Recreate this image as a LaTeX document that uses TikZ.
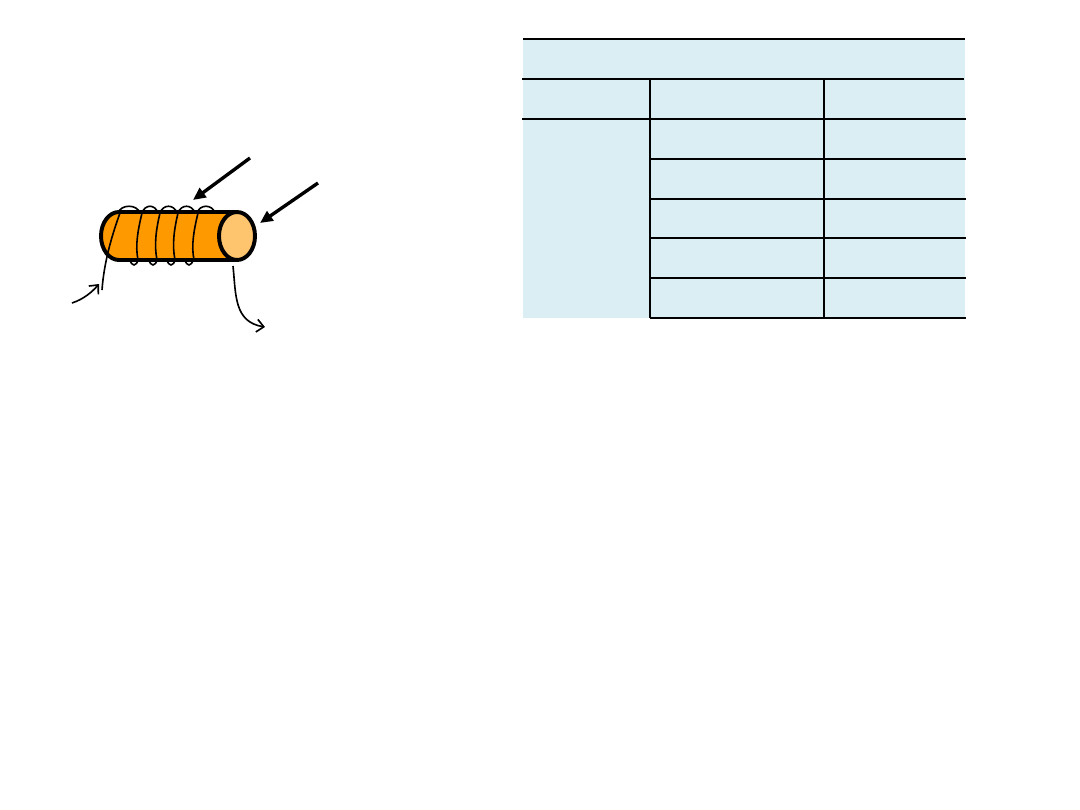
\documentclass[tikz,border=0pt]{standalone}
\usetikzlibrary{arrows.meta}
\definecolor{coilorange}{RGB}{255,153,0}
\definecolor{coilend}{RGB}{255,196,110}
\definecolor{cellblue}{RGB}{219,238,243}
\tikzset{
    wire/.style={line width=1.15pt},
    lead/.style={wire,-{Straight Barb[length=5pt,width=9pt]}},
    rim/.style={line width=2.8pt},
    pointer/.style={line width=2.4pt,-{Triangle[length=9pt,width=8pt]}},
    gridline/.style={line width=0.9pt},
}
\begin{document}
\begin{tikzpicture}[x=0.025cm,y=-0.025cm]
        \useasboundingbox (0,0) rectangle (1080,810);
        % table
        \fill[cellblue] (523,39) rectangle (965,318);
        \draw[gridline] (523,39) -- (965,39);
        \draw[gridline] (522,79) -- (964,79);
        \draw[gridline] (522,119) -- (966,119);
        \foreach \y in {159,199,238,278,318}{
            \draw[gridline] (650,\y) -- (966,\y);
        }
        \draw[gridline] (650,79) -- (650,318);
        \draw[gridline] (824,79) -- (824,318);
        % coil body
        \fill[coilorange] (237,212) -- (119,212) arc(-90:-270:18 and 24) -- (237,260) -- cycle;
        \foreach \a/\b in {118/140,142/158,160/177,178/195,197/215}{
            \draw[wire] (\a,213) .. controls (\a+3,204) and (\b-3,204) .. (\b,213);
        }
        \foreach \a in {130,149,167,185}{
            \draw[wire] (\a,259) .. controls (\a+1,267) and (\a+7,267) .. (\a+8,259);
        }
        \draw[rim] (237,212) -- (119,212) arc(-90:-270:18 and 24) -- (237,260);
        \foreach \t/\b in {142/138,160/157,178/175,198/194}{
            \draw[wire] (\t,213) .. controls (\t-4,230) and (\b-3,245) .. (\b,260);
        }
        \draw[wire] (120,213) .. controls (112,235) and (104,262) .. (102,290);
        \draw[rim,fill=coilend] (237,236) ellipse [x radius=18, y radius=24];
        % leads
        \draw[lead] (72,303) .. controls (84,299) and (92,292) .. (99,284);
        \draw[lead] (233,266) .. controls (236,295) and (234,322) .. (265,327);
        % pointers
        \coordinate (coiltop) at (193,200);
        \coordinate (coilface) at (260,223);
        \draw[pointer] (250,158) -- (coiltop);
        \draw[pointer] (318,183) -- (coilface);
\end{tikzpicture}
\end{document}
